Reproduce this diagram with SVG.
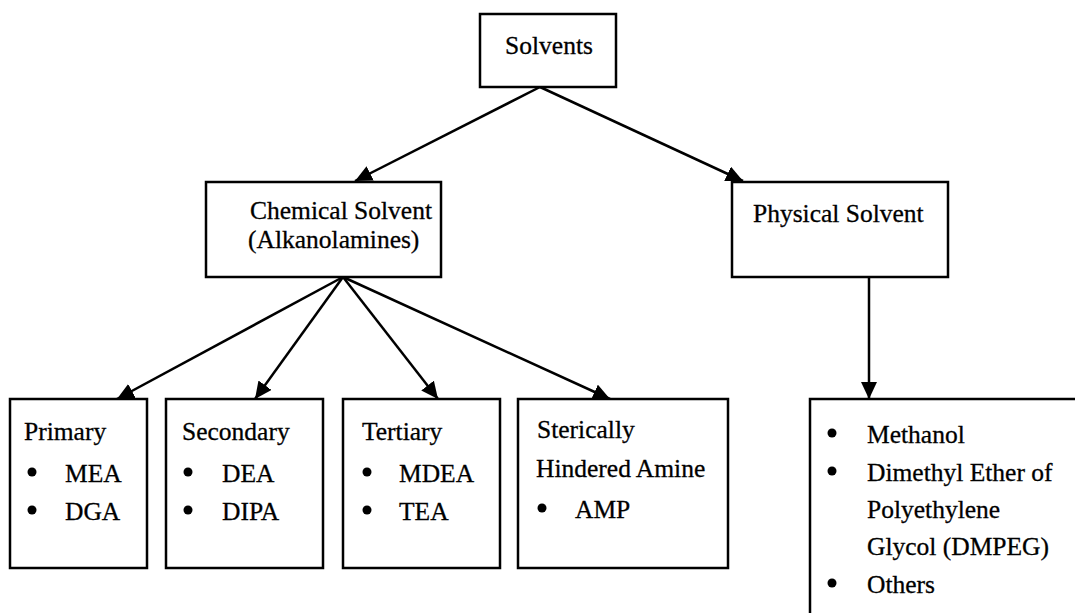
<svg xmlns="http://www.w3.org/2000/svg" width="1075" height="613" viewBox="0 0 1075 613">
<style>
.box{fill:#fff;stroke:#000;stroke-width:2.5}
.t{font-family:"Liberation Serif","Times New Roman",serif;font-size:25.5px;fill:#000;stroke:#000;stroke-width:0.3}
.c{text-anchor:middle}
.ln{stroke:#000;stroke-width:2.5;fill:none;marker-end:url(#ah)}
</style>
<defs>
<marker id="ah" markerUnits="userSpaceOnUse" markerWidth="20" markerHeight="18" refX="17" refY="8" orient="auto">
<path d="M0,0 L17,8 L0,16 Z" fill="#000"/>
</marker>
</defs>
<rect width="1075" height="613" fill="#fff"/>
<g id="connectors">
<line class="ln" x1="540" y1="87" x2="355" y2="181"/>
<line class="ln" x1="540" y1="87" x2="743" y2="181"/>
<line class="ln" x1="343" y1="277" x2="117" y2="399"/>
<line class="ln" x1="343" y1="277" x2="255" y2="399"/>
<line class="ln" x1="343" y1="277" x2="438" y2="399"/>
<line class="ln" x1="343" y1="277" x2="610" y2="399"/>
<line class="ln" x1="869" y1="277" x2="869" y2="399"/>
</g>
<g id="solvents">
<rect class="box" x="480" y="14" width="136" height="73"/>
<text class="t c" x="549" y="54">Solvents</text>
</g>
<g id="chemical">
<rect class="box" x="206" y="182" width="235" height="95"/>
<text class="t" x="250" y="219">Chemical Solvent</text>
<text class="t" x="248" y="248">(Alkanolamines)</text>
</g>
<g id="physical">
<rect class="box" x="732" y="182" width="216" height="95"/>
<text class="t" x="753" y="222">Physical Solvent</text>
</g>
<g id="primary">
<rect class="box" x="10" y="399" width="137" height="169"/>
<text class="t" x="24" y="440">Primary</text>
<circle cx="32" cy="472" r="4.5"/>
<text class="t" x="65" y="482">MEA</text>
<circle cx="32" cy="510" r="4.5"/>
<text class="t" x="65" y="520">DGA</text>
</g>
<g id="secondary">
<rect class="box" x="166" y="399" width="157" height="169"/>
<text class="t" x="182" y="440">Secondary</text>
<circle cx="188" cy="472" r="4.5"/>
<text class="t" x="222" y="482">DEA</text>
<circle cx="188" cy="510" r="4.5"/>
<text class="t" x="222" y="520">DIPA</text>
</g>
<g id="tertiary">
<rect class="box" x="343" y="399" width="157" height="169"/>
<text class="t" x="362" y="440">Tertiary</text>
<circle cx="367" cy="472" r="4.5"/>
<text class="t" x="399" y="482">MDEA</text>
<circle cx="367" cy="510" r="4.5"/>
<text class="t" x="399" y="520">TEA</text>
</g>
<g id="sterically">
<rect class="box" x="518" y="399" width="210" height="169"/>
<text class="t" x="537" y="438">Sterically</text>
<text class="t" x="536" y="477">Hindered Amine</text>
<circle cx="542" cy="508" r="4.5"/>
<text class="t" x="575" y="518">AMP</text>
</g>
<g id="physical-list">
<rect class="box" x="810" y="399" width="290" height="240"/>
<circle cx="832" cy="433" r="4.5"/>
<text class="t" x="867" y="443">Methanol</text>
<circle cx="832" cy="471" r="4.5"/>
<text class="t" x="867" y="481">Dimethyl Ether of</text>
<text class="t" x="867" y="518">Polyethylene</text>
<text class="t" x="867" y="555">Glycol (DMPEG)</text>
<circle cx="832" cy="583" r="4.5"/>
<text class="t" x="867" y="593">Others</text>
</g>
</svg>
